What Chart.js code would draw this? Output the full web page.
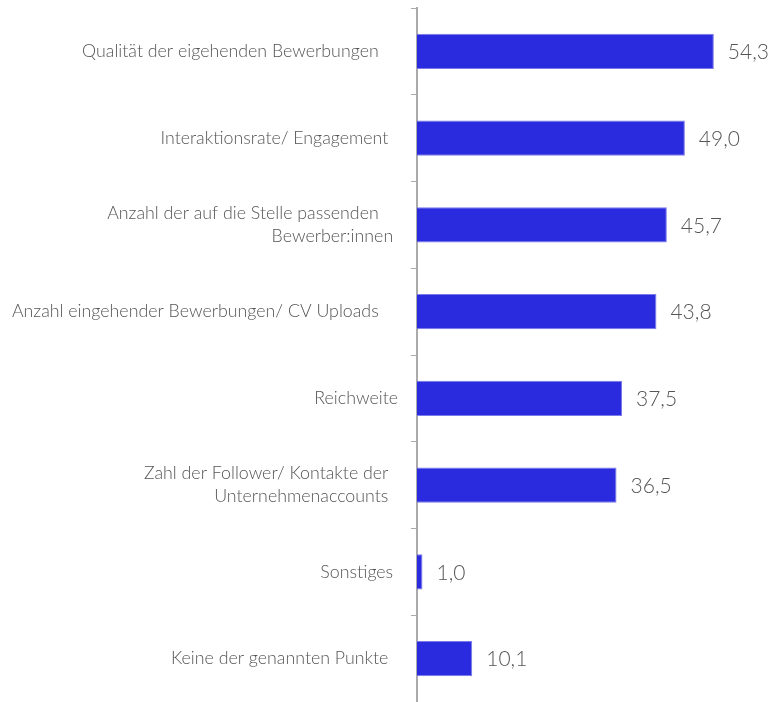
<!DOCTYPE html>
<html>
<head>
<meta charset="utf-8">
<script src="https://cdn.jsdelivr.net/npm/chart.js@4"></script>
<style>
  body { margin: 0; background: #fff; }
</style>
</head>
<body>
<canvas id="chart" width="774" height="702"></canvas>
<script>
// categories (trailing spaces keep the original ragged right edge)
const categories = [
  "Qualität der eigehenden Bewerbungen    ",
  "Interaktionsrate/ Engagement  ",
  ["Anzahl der auf die Stelle passenden    ", "Bewerber:innen "],
  "Anzahl eingehender Bewerbungen/ CV Uploads    ",
  "Reichweite",
  ["Zahl der Follower/ Kontakte der  ", "Unternehmenaccounts  "],
  "Sonstiges ",
  "Keine der genannten Punkte  "
];
const values = [54.3, 49.0, 45.7, 43.8, 37.5, 36.5, 1.0, 10.1];

// Werte rechts neben den Balken
const valueLabels = {
  id: "valueLabels",
  afterDatasetsDraw(chart) {
    const ctx = chart.ctx;
    const meta = chart.getDatasetMeta(0);
    ctx.save();
    ctx.font = "300 21px Lato";
    ctx.fillStyle = "#555";
    ctx.textAlign = "left";
    ctx.textBaseline = "middle";
    meta.data.forEach((bar, i) => {
      ctx.fillText(values[i].toFixed(1).replace(".", ","), bar.x + 14, bar.y + 1);
    });
    ctx.restore();
  }
};

const ctx = document.getElementById("chart").getContext("2d");
new Chart(ctx, {
  type: "bar",
  data: {
    labels: categories,
    datasets: [{
      data: values,
      backgroundColor: "#2a2adf",
      borderColor: "#7a7ae8",
      borderWidth: 1,
      categoryPercentage: 0.8,
      barPercentage: 0.51
    }]
  },
  options: {
    indexAxis: "y",
    responsive: false,
    animation: false,
    layout: { padding: { top: 8, right: 29, bottom: 0, left: 0 } },
    plugins: {
      legend: { display: false },
      tooltip: { enabled: false }
    },
    scales: {
      x: {
        display: false,
        min: 0,
        max: 60
      },
      y: {
        afterFit(scale) {
          scale.width = 417;
          scale.paddingTop = 0;
          scale.paddingBottom = 0;
        },
        grid: {
          drawOnChartArea: false,
          drawTicks: true,
          tickLength: 6,
          color: "#aaa",
          lineWidth: 1
        },
        border: { display: true, color: "#aaa", width: 2 },
        ticks: {
          color: "#555",
          padding: 13,
          font: { family: "Lato", size: 17.8, weight: 300, lineHeight: 1.3 }
        }
      }
    }
  },
  plugins: [valueLabels]
});
</script>
</body>
</html>
